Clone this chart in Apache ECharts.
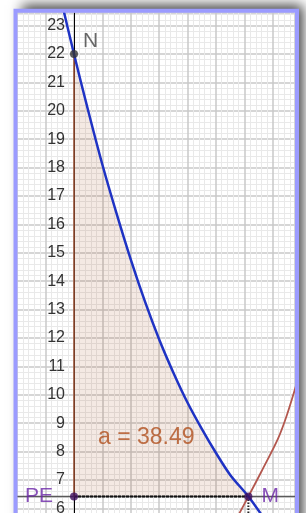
<!DOCTYPE html>
<html>
<head>
<meta charset="utf-8">
<script src="https://cdn.jsdelivr.net/npm/echarts@6/dist/echarts.min.js"></script>
<style>
  html, body { margin: 0; padding: 0; background: #fff; }
  #chart { width: 306px; height: 513px; }
</style>
</head>
<body>
<div id="chart"></div>
<script>
// blue curve
const blueX = [-0.5, 0, 0.5, 1, 1.5, 2, 2.5, 3, 3.5, 4, 4.5, 5, 5.5, 6.14, 6.6];
const blueY = [24.1, 22, 20.0, 18.1, 16.38, 14.76, 13.28, 11.95, 10.78, 9.72, 8.8, 7.95, 7.18, 6.42, 5.78];

// red curve
const redX = [5.7, 6.14, 6.6, 7.18, 7.5, 7.9];
const redY = [5.6, 6.42, 7.3, 8.45, 9.3, 10.6];

// named points
const pointNames = ['N', 'PE', 'M'];
const pointX = [0, 0, 6.14];
const pointY = [22, 6.42, 6.42];

const areaText = 'a = 38.49';
const baseY = 6.42;   // line PE - M
const mX = 6.14;

const FONT = 'Liberation Sans, Arial, sans-serif';

const bluePts = blueX.map((x, i) => [x, blueY[i]]);
const redPts = redX.map((x, i) => [x, redY[i]]);

// polygon for the shaded integral
const fillPts = [[0, baseY]]
  .concat(bluePts.filter(p => p[0] >= 0 && p[0] <= mX))
  .concat([[mX, baseY]]);

const chart = echarts.init(document.getElementById('chart'));

// pixel size of one unit, same on both axes
const UNIT = 28.4;
const X_MIN = -2;

const gridStyle = {
  splitLine: { show: true, lineStyle: { color: '#c9c9c9', width: 1.5 } },
  minorTick: { show: false, splitNumber: 5 },
  minorSplitLine: { show: true, lineStyle: { color: '#e9e9e9', width: 1 } }
};

const option = {
  animation: false,
  backgroundColor: '#fff',
  grid: { left: 17.2, top: 13, width: 277.3, height: 523.8, outerBoundsMode: 'none', containLabel: false },
  xAxis: Object.assign({
    type: 'value', min: X_MIN, max: 7.764, interval: 1,
    axisLine: { show: false },
    axisTick: { show: false },
    axisLabel: { show: false }
  }, gridStyle),
  yAxis: Object.assign({
    type: 'value', min: 5, max: 23.444, interval: 1,
    // move the axis (line + labels) onto x = 0
    offset: X_MIN * UNIT,
    axisLine: { show: true, onZero: false, lineStyle: { color: '#000', width: 1 } },
    axisTick: { show: false },
    axisLabel: {
      show: true, margin: 9, color: '#333', fontSize: 16, fontFamily: FONT,
      showMaxLabel: false,
      padding: [4, 0, 0, 0],
      formatter: v => (Math.abs(v - Math.round(v)) < 1e-6 ? String(Math.round(v)) : '')
    }
  }, gridStyle),
  graphic: [
    {
      type: 'rect', z: -10, silent: true,
      shape: { x: 15.5, y: 10.8, width: 281.5, height: 540 },
      style: { fill: '#fff', shadowBlur: 12, shadowColor: 'rgba(0,0,0,0.75)', shadowOffsetX: 6, shadowOffsetY: -6 }
    },
    {
      type: 'rect', z: 100, silent: true,
      shape: { x: 15.5, y: 10.8, width: 281.5, height: 540 },
      style: { fill: 'none', stroke: '#9b9bff', lineWidth: 4 }
    }
  ],
  series: [
    {
      type: 'custom', z: 1, silent: true,
      data: [0],
      renderItem: (params, api) => ({
        type: 'polygon',
        shape: { points: fillPts.map(p => api.coord(p)) },
        style: { fill: 'rgba(153,51,0,0.11)' }
      })
    },
    {
      type: 'line', z: 2, symbol: 'none', silent: true,
      data: [[-2.5, baseY], [9, baseY]],
      lineStyle: { color: '#5a5a5a', width: 1.5 }
    },
    {
      type: 'line', z: 3, symbol: 'none', silent: true,
      data: [[0, baseY], [mX, baseY]],
      lineStyle: { color: '#111', width: 2, type: [3, 1] }
    },
    {
      type: 'line', z: 3, symbol: 'none', silent: true,
      data: [[mX, baseY], [mX, 4]],
      lineStyle: { color: '#222', width: 2, type: [1.5, 1.5] }
    },
    {
      type: 'line', z: 3, symbol: 'none', silent: true,
      data: [[pointX[0], pointY[0]], [pointX[1], pointY[1]]],
      lineStyle: { color: '#9c5234', width: 1.5 }
    },
    {
      type: 'line', z: 4, symbol: 'none', silent: true, smooth: 0.3,
      data: redPts,
      lineStyle: { color: '#b3574e', width: 1.8 }
    },
    {
      type: 'line', z: 4, symbol: 'none', silent: true, smooth: 0.3,
      data: bluePts,
      lineStyle: { color: '#1f33c4', width: 2.5 }
    },
    {
      type: 'scatter', z: 6, symbolSize: 8, silent: true,
      data: [
        {
          value: [pointX[0], pointY[0]], itemStyle: { color: '#333' },
          label: { show: true, formatter: pointNames[0], position: 'right', distance: 5, offset: [0, -13], color: '#444' }
        },
        {
          value: [pointX[1], pointY[1]], itemStyle: { color: '#3d0f5e' },
          label: { show: true, formatter: pointNames[1], position: 'left', distance: 17, color: '#6c25a8' }
        },
        {
          value: [pointX[2], pointY[2]], itemStyle: { color: '#3d0f5e' },
          label: { show: true, formatter: pointNames[2], position: 'right', distance: 9, color: '#6c25a8' }
        }
      ],
      label: { fontSize: 21, fontFamily: FONT }
    },
    {
      type: 'scatter', z: 6, symbolSize: 0, silent: true,
      data: [[0.845, 8.48]],
      label: {
        show: true, formatter: areaText, position: 'right', distance: 0,
        color: '#b04f1d', fontSize: 23, fontFamily: FONT
      }
    }
  ]
};

chart.setOption(option);
</script>
</body>
</html>
